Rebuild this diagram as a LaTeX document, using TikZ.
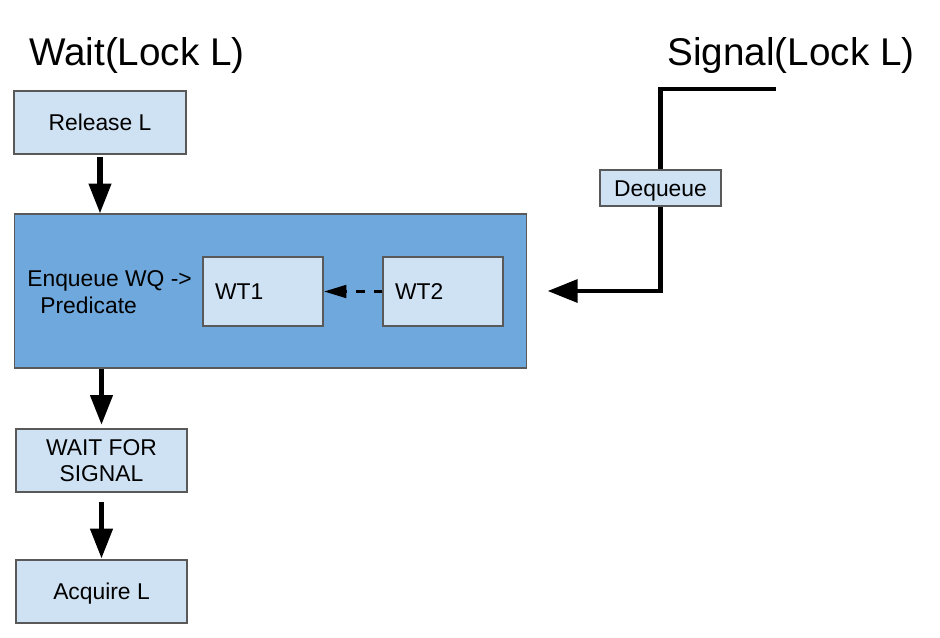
\documentclass[tikz,border=0pt]{standalone}
\usepackage{fontspec}
\setmainfont{Liberation Sans}
\usepackage{tikz}
\usetikzlibrary{positioning, arrows.meta}
\definecolor{lightbox}{HTML}{CFE2F3}
\definecolor{queuebox}{HTML}{6FA8DC}
\tikzset{
    box/.style={rectangle, draw=black!65, fill=lightbox, line width=0.6pt, inner sep=0pt, align=center, font=\fontsize{13}{15.1}\selectfont},
    title/.style={font=\fontsize{22}{26}\selectfont, inner sep=0pt, anchor=base},
    flow/.style={-{Triangle[length=17pt, width=12.3pt]}, line width=3pt}
}

\begin{document}
\begin{tikzpicture}[
    x=0.02cm, y=-0.02cm,
    single/.style={text height=9.3pt, text depth=0pt},
    waiter/.style={box, single, minimum width=2.4cm, minimum height=1.38cm, text width=1.92cm, inner xsep=0.24cm, align=left},
    signal/.style={-{Triangle[length=17pt, width=12.9pt]}, line width=2.3pt},
    chain/.style={-{Triangle[length=13pt, width=7pt]}, line width=2.2pt, dash pattern=on 5pt off 5pt}
]
    \useasboundingbox (0,0) rectangle (940,637);

    % --- Titles ---
    \node[title] (waittitle) at (137,65) {Wait(Lock L)};
    \node[title] (sigtitle) at (791,65) {Signal(Lock L)};

    % --- Wait side ---
    \node[box, single, minimum width=3.44cm, minimum height=1.26cm] (release) at (100,122.5) {Release L};
    \node[rectangle, draw=black!65, fill=queuebox, line width=0.6pt, minimum width=10.26cm, minimum height=3.08cm] (queue) at (270.5,291) {};
    \node[anchor=west, inner sep=0pt, align=left, font=\fontsize{13}{15.1}\selectfont] (enq) at (27,292) {Enqueue WQ ->\\\hspace*{7.4pt}Predicate};
    \node[waiter] (wt1) at (263,291.5) {WT1};
    \node[waiter] (wt2) at (443,291.5) {WT2};
    \node[box, minimum width=3.42cm, minimum height=1.26cm] (waitsig) at (101.5,460.5) {WAIT FOR\\SIGNAL};
    \node[box, single, minimum width=3.42cm, minimum height=1.26cm] (acquire) at (101.5,591.5) {Acquire L};

    % Down arrows
    \draw[flow, shorten <=1.5pt] (release.south) -- (release.south |- queue.north);
    \draw[flow, shorten >=2pt] (waitsig.north |- queue.south) -- (waitsig.north);
    \draw[flow, shorten <=5.5pt, shorten >=0.5pt] (waitsig.south) -- (acquire.north);

    % Waiting threads
    \draw[chain] (wt2.west) -- (wt1.east);

    % --- Signal side ---
    \coordinate (sigstart) at (776,89);
    \node[box, single, minimum width=2.42cm, minimum height=0.72cm] (dequeue) at (660.5,188) {Dequeue};
    \draw[line width=2.3pt] (sigstart) -| (dequeue.north);
    \draw[signal, shorten >=11.5pt] (dequeue.south) |- (queue.east);

\end{tikzpicture}
\end{document}
